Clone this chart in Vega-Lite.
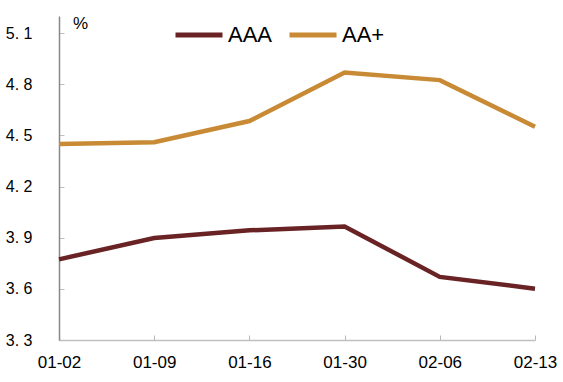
{
  "$schema": "https://vega.github.io/schema/vega-lite/v6.json",
  "width": 476,
  "height": 324,
  "autosize": {"type": "none"},
  "padding": {"left": 59, "top": 16, "right": 28, "bottom": 42},
  "background": "white",
  "config": {"view": {"stroke": null}, "font": "Liberation Sans"},
  "data": {"values": [
    {"date": "01-02", "series": "AAA", "value": 3.773},
    {"date": "01-09", "series": "AAA", "value": 3.898},
    {"date": "01-16", "series": "AAA", "value": 3.943},
    {"date": "01-30", "series": "AAA", "value": 3.966},
    {"date": "02-06", "series": "AAA", "value": 3.670},
    {"date": "02-13", "series": "AAA", "value": 3.601},
    {"date": "01-02", "series": "AA+", "value": 4.449},
    {"date": "01-09", "series": "AA+", "value": 4.460},
    {"date": "01-16", "series": "AA+", "value": 4.584},
    {"date": "01-30", "series": "AA+", "value": 4.869},
    {"date": "02-06", "series": "AA+", "value": 4.824},
    {"date": "02-13", "series": "AA+", "value": 4.550}
  ]},
  "mark": {"type": "line", "strokeWidth": 4.5, "strokeCap": "butt", "strokeJoin": "miter"},
  "encoding": {
    "x": {
      "field": "date", "type": "ordinal",
      "scale": {"type": "point", "padding": 0},
      "axis": {
        "title": null, "labelAngle": 0, "labelFontSize": 17, "labelColor": "#000",
        "domainColor": "#c0c0c0", "domainWidth": 1.5, "tickColor": "#b8b8b8", "tickSize": -5,
        "labelPadding": 19, "grid": false
      }
    },
    "y": {
      "field": "value", "type": "quantitative",
      "scale": {"domain": [3.3, 5.2], "zero": false, "nice": false},
      "axis": {
        "values": [3.3, 3.6, 3.9, 4.2, 4.5, 4.8, 5.1],
        "labelExpr": "replace(format(datum.value, '.1f'), '.', '. ')",
        "labelFontSize": 16, "labelColor": "#000",
        "domainColor": "#888888", "domainWidth": 1.5, "tickColor": "#c0c0c0", "tickSize": -5,
        "labelPadding": 32, "grid": false,
        "title": "%", "titleAngle": 0, "titleX": 21, "titleY": 7, "titleAlign": "center",
        "titleBaseline": "middle", "titleFontSize": 17, "titleFontWeight": "normal", "titleColor": "#000"
      }
    },
    "color": {
      "field": "series", "type": "nominal",
      "scale": {"domain": ["AAA", "AA+"], "range": ["#6a2325", "#c88a34"]},
      "legend": {
        "title": null, "orient": "none", "direction": "horizontal",
        "legendX": 114, "legendY": -7, "padding": 0,
        "symbolType": "stroke", "symbolSize": 2209, "symbolStrokeWidth": 5,
        "labelFontSize": 22, "labelColor": "#000", "labelOffset": 3, "columnPadding": 6
      }
    }
  }
}
